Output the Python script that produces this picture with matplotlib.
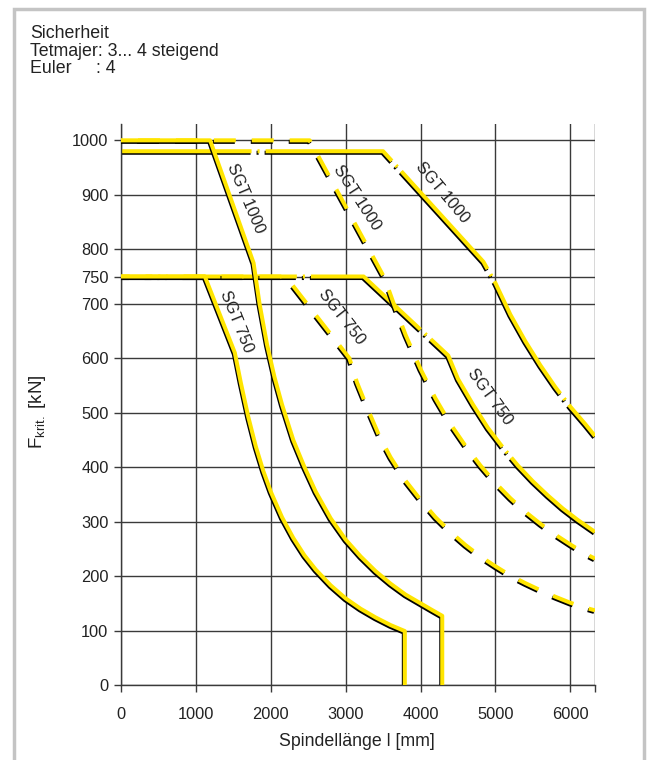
import matplotlib
matplotlib.use("Agg")
import matplotlib.pyplot as plt
import matplotlib.patheffects as pe
from matplotlib.patches import Rectangle

plt.rcParams["font.family"] = ["Liberation Sans", "DejaVu Sans"]
plt.rcParams["mathtext.fontset"] = "custom"
plt.rcParams["mathtext.rm"] = "Liberation Sans"
plt.rcParams["mathtext.it"] = "Liberation Sans:italic"
plt.rcParams["lines.scale_dashes"] = False

# Knickkraft F_krit. [kN] über Spindellänge l [mm]
sgt1000_solid_l = [0, 1190, 1770, 1850, 1950, 2050, 2150, 2300, 2450, 2600, 2800, 3000,
                   3200, 3400, 3600, 3800, 4000, 4150, 4290, 4290]
sgt1000_solid_f = [1000, 1000, 775, 700, 625, 565, 515, 450, 400, 355, 306, 267,
                   236, 209, 186, 166, 150, 138, 127, 0]

sgt1000_dash_l = [0, 2520, 3520, 3650, 3800, 4000, 4200, 4400, 4600, 4800, 5000, 5200,
                  5400, 5600, 5800, 6000, 6200, 6330]
sgt1000_dash_f = [1000, 1000, 747, 697, 643, 580, 526, 479, 439, 403, 371, 343,
                  318, 296, 276, 258, 241, 232]

sgt1000_dashdot_l = [0, 3500, 4840, 5000, 5200, 5400, 5600, 5800, 6000, 6200, 6330]
sgt1000_dashdot_f = [980, 980, 777, 738, 680, 631, 587, 547, 511, 479, 457]

sgt750_solid_l = [0, 1120, 1520, 1600, 1700, 1800, 1900, 2000, 2150, 2300, 2450, 2600,
                  2800, 3000, 3200, 3400, 3600, 3790, 3790]
sgt750_solid_f = [750, 750, 610, 555, 492, 438, 393, 355, 308, 270, 238, 212,
                  183, 159, 140, 124, 110, 99, 0]

sgt750_dash_l = [0, 2200, 3050, 3150, 3300, 3450, 3600, 3800, 4000, 4200, 4400, 4600,
                 4800, 5000, 5200, 5400, 5600, 5800, 6000, 6200, 6330]
sgt750_dash_f = [750, 750, 600, 556, 505, 457, 418, 375, 340, 308, 281, 257,
                 236, 218, 201, 187, 174, 162, 151, 142, 137]

sgt750_dashdot_l = [0, 3240, 4370, 4500, 4700, 4900, 5100, 5300, 5500, 5700, 5900, 6100, 6330]
sgt750_dashdot_f = [750, 750, 605, 562, 515, 472, 436, 403, 374, 348, 324, 303, 281]

y_ticks = [0, 100, 200, 300, 400, 500, 600, 700, 750, 800, 900, 1000]
x_ticks = [0, 1000, 2000, 3000, 4000, 5000, 6000]
x_max = 6330
y_max = 1030

curve_labels = ["SGT 1000", "SGT 1000", "SGT 1000", "SGT 750", "SGT 750", "SGT 750"]

YELLOW = "#FFE500"
GRID = "#3a3a3a"
TXT = "#222222"
FS_TICK = 11.8
FS_TEXT = 12.8

fig = plt.figure(figsize=(6.56, 7.6), dpi=100)
ax = fig.add_axes([121 / 656, 1 - 685 / 760, (595 - 121) / 656, (685 - 124) / 760])

ax.set_xlim(0, x_max)
ax.set_ylim(0, y_max)
ax.set_xticks(x_ticks + [x_max])
ax.set_xticklabels([str(v) for v in x_ticks] + [""])
ax.set_yticks(y_ticks)
ax.set_yticklabels([str(v) for v in y_ticks])
ax.grid(True, color=GRID, linewidth=1.0, zorder=0)
ax.set_axisbelow(True)
for s in ["top", "right"]:
    ax.spines[s].set_visible(False)
for s in ["left", "bottom"]:
    ax.spines[s].set_color(GRID)
    ax.spines[s].set_linewidth(1.0)
ax.tick_params(axis="both", direction="out", length=5, width=1.0, color=GRID,
               labelsize=FS_TICK, labelcolor=TXT)
ax.tick_params(axis="x", pad=11)
ax.tick_params(axis="y", pad=4)

shadow = [pe.SimpleLineShadow(offset=(-0.7, -1.1), shadow_color="black", alpha=1.0),
          pe.Normal()]

dashed_1000 = (20.9 * 0.72, (15.8, 11.5))
dashed_750 = (13.3 * 0.72, (15.8, 11.5))
dashdot_1000 = (0, (94, 4.3, 1.5, 4.3))
dashdot_750 = (99.3 * 0.72, (94, 4.3, 1.5, 4.3))

curves = [
    (sgt1000_dashdot_l, sgt1000_dashdot_f, dashdot_1000, 2),
    (sgt750_dashdot_l, sgt750_dashdot_f, dashdot_750, 2),
    (sgt1000_dash_l, sgt1000_dash_f, dashed_1000, 3),
    (sgt750_dash_l, sgt750_dash_f, dashed_750, 3),
    (sgt1000_solid_l, sgt1000_solid_f, "-", 4),
    (sgt750_solid_l, sgt750_solid_f, "-", 4),
]
for lx, ly, ls, z in curves:
    ax.plot(lx, ly, color=YELLOW, linewidth=2.9, linestyle=ls,
            solid_joinstyle="round", dash_capstyle="butt",
            path_effects=shadow, zorder=z)

# Beschriftung der Kurven
label_pos = [(1660, 893, -67), (3150, 895, -57), (4290, 905, -50),
             (1545, 668, -68), (2950, 676, -52), (4920, 530, -54)]
for txt, (lx, ly, rot) in zip(curve_labels, label_pos):
    ax.text(lx, ly, txt, rotation=rot, rotation_mode="anchor",
            ha="center", va="center", fontsize=FS_TICK, color=TXT, zorder=6)

# Kopftext
fig.text(30 / 656, 1 - 38 / 760, "Sicherheit", fontsize=FS_TEXT, color=TXT, va="baseline")
fig.text(30 / 656, 1 - 55.5 / 760, "Tetmajer: 3... 4 steigend", fontsize=FS_TEXT, color=TXT,
         va="baseline")
fig.text(30 / 656, 1 - 73 / 760, "Euler     : 4", fontsize=FS_TEXT, color=TXT, va="baseline")

fig.text(37 / 656, 1 - 412 / 760, r"F$_{\mathrm{krit.}}$ [kN]", rotation=90,
         ha="center", va="center", fontsize=13.5, color=TXT)
fig.text(357 / 656, 1 - 741 / 760, "Spindellänge l [mm]", ha="center", va="center",
         fontsize=FS_TEXT, color=TXT)

# Rahmen
fig.patches.append(Rectangle((14 / 656, -0.05), (644 - 14) / 656, 1.05 - 9.5 / 760,
                             transform=fig.transFigure, fill=False,
                             edgecolor="#c4c4c4", linewidth=2.5, zorder=0))

fig.savefig("out.png", dpi=100)
